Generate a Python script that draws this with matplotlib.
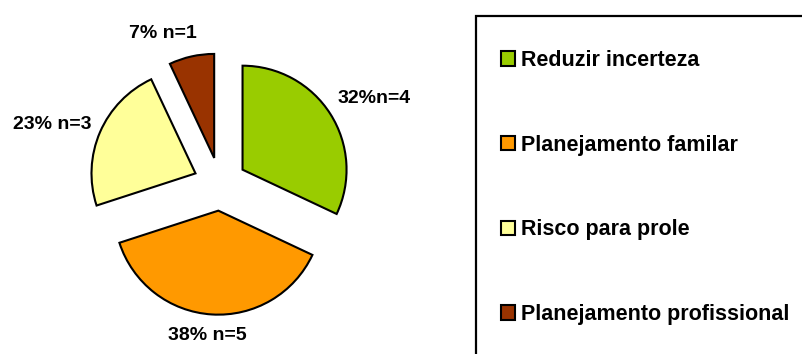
import matplotlib
matplotlib.use('Agg')
import matplotlib.pyplot as plt
from matplotlib.patches import Rectangle

plt.rcParams['font.family'] = ['Liberation Sans', 'DejaVu Sans']
plt.rcParams['font.weight'] = 'bold'

# Data
categories = ['Reduzir incerteza', 'Planejamento familar', 'Risco para prole', 'Planejamento profissional']
percents = [32, 38, 23, 7]
counts = [4, 5, 3, 1]
colors = ['#99CC00', '#FF9900', '#FFFF99', '#993300']
label_texts = ['32%n=4', '38% n=5', '23% n=3', '7% n=1']

W, H = 803, 354
fig = plt.figure(figsize=(W / 100, H / 100), dpi=100)
ax = fig.add_axes((0, 0, 1, 1))

center = (220, 170)
radius = 104
wedges, _ = ax.pie(
    percents, colors=colors, startangle=90, counterclock=False,
    center=center, radius=radius, explode=[26.7] * 4, frame=True,
    wedgeprops=dict(edgecolor='black', linewidth=1.5),
)
ax.set_xlim(0, W)
ax.set_ylim(0, H)
ax.set_aspect('equal')
ax.axis('off')

# label positions (pixels, y from bottom)
label_pos = [(374, 255), (207, 19), (52, 229), (163, 321)]
for (x, y), s in zip(label_pos, label_texts):
    ax.text(x, y, s, ha='center', va='center', fontsize=14, fontweight='bold')

# legend frame
fig.patches.append(Rectangle((476 / W, -0.1), 0.5, (H - 16) / H + 0.1, transform=fig.transFigure,
                             fill=False, edgecolor='black', linewidth=1.6))
leg = fig.legend(wedges, categories, loc='upper left', bbox_to_anchor=(501 / W, 1 - 50 / H),
                 frameon=False, fontsize=15.5, handlelength=0.65, handleheight=0.65,
                 handletextpad=0.3, labelspacing=2.96, borderpad=0, borderaxespad=0)
for t in leg.get_texts():
    t.set_fontweight('bold')

fig.savefig('out.png', dpi=100, facecolor='white')
